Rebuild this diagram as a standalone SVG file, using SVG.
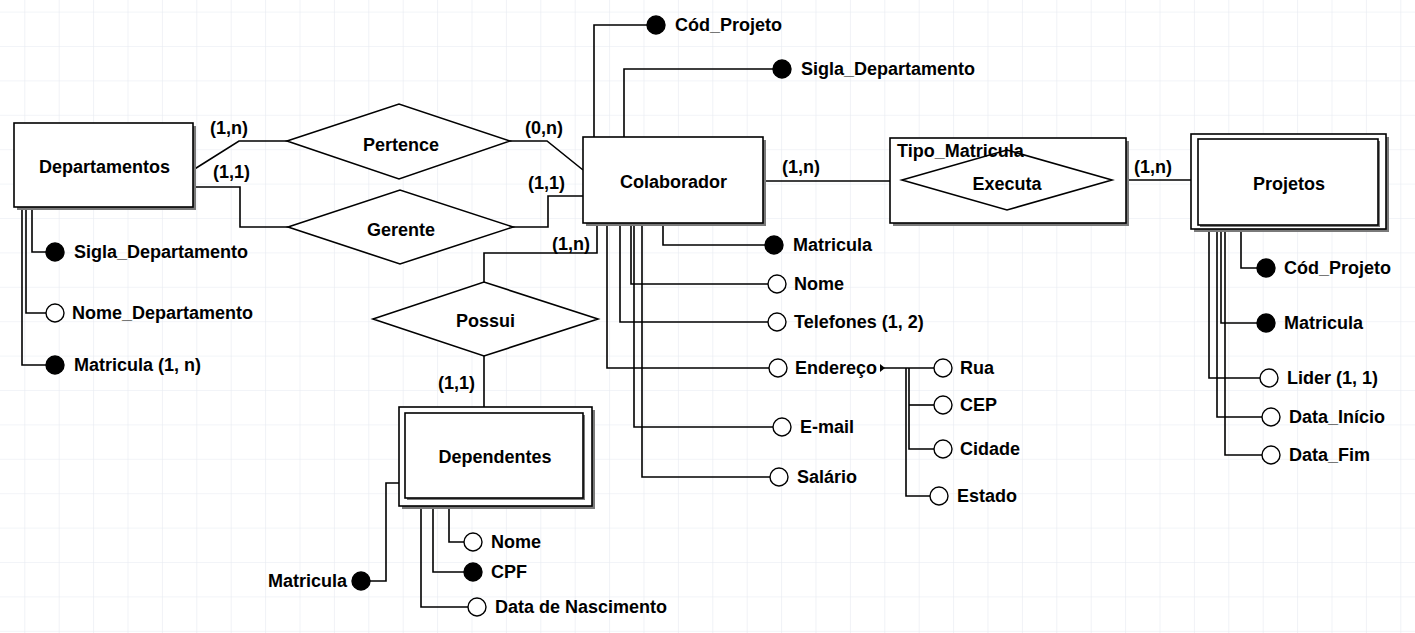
<svg xmlns="http://www.w3.org/2000/svg" width="1415" height="633" viewBox="0 0 1415 633">
<defs>
<pattern id="grid" patternUnits="userSpaceOnUse" x="24.3" y="11.6" width="34.4" height="34.4">
<path d="M0 0H34.4M0 0V34.4" fill="none" stroke="#e6eaf1" stroke-width="1.2"/>
</pattern>
<style>
text{font-family:"Liberation Sans",Arial,sans-serif;font-weight:bold;font-size:18px;fill:#000}
.c{text-anchor:middle}
.e{text-anchor:end}
.box{fill:#fff;stroke:#000;stroke-width:1.6}
.sh{fill:#7a7a7a}
.dia{fill:#fff;stroke:#000;stroke-width:1.6}
.ln{fill:none;stroke:#000;stroke-width:1.6}
.key{fill:#000;stroke:#000;stroke-width:1.4}
.att{fill:#fff;stroke:#000;stroke-width:1.4}
</style>
</defs>
<rect width="1415" height="633" fill="#fff"/>
<rect width="1415" height="633" fill="url(#grid)"/>

<g id="connectors">
<polyline class="ln" points="193,170 239,141 287,141"/>
<polyline class="ln" points="510,141 547,141 583,170"/>
<polyline class="ln" points="193,187 240,187 240,227 288,227"/>
<polyline class="ln" points="513,227 548,227 548,196 583,196"/>
<polyline class="ln" points="597,223 597,253 484,253 484,282"/>
<polyline class="ln" points="484,356 484,407"/>
<polyline class="ln" points="763,181 902,181"/>
<polyline class="ln" points="1112,180 1191,180"/>
<!-- Departamentos attributes -->
<polyline class="ln" points="32,208 32,252 46,252"/>
<polyline class="ln" points="26,208 26,313 46,313"/>
<polyline class="ln" points="22,208 22,365 46,365"/>
<!-- Colaborador attributes -->
<polyline class="ln" points="594,137 594,25 647,25"/>
<polyline class="ln" points="624,137 624,69 773,69"/>
<polyline class="ln" points="663,223 663,245 765,245"/>
<polyline class="ln" points="631,223 631,284 768,284"/>
<polyline class="ln" points="620,223 620,322 768,322"/>
<polyline class="ln" points="607,223 607,368 769,368"/>
<polyline class="ln" points="634,223 634,427 773,427"/>
<polyline class="ln" points="642,223 642,477 770,477"/>
<!-- Endereco sub-attributes -->
<polyline class="ln" points="884,368 934,368"/>
<polyline class="ln" points="909,368 909,449 934,449"/>
<polyline class="ln" points="909,405 934,405"/>
<polyline class="ln" points="906,368 906,496 930,496"/>
<polygon points="880,364 885,368 880,372" fill="#000"/>
<!-- Projetos attributes -->
<polyline class="ln" points="1241,229 1241,268 1257,268"/>
<polyline class="ln" points="1221,229 1221,323 1257,323"/>
<polyline class="ln" points="1209,229 1209,378 1260,378"/>
<polyline class="ln" points="1217,229 1217,417 1262,417"/>
<polyline class="ln" points="1225,229 1225,455 1262,455"/>
<!-- Dependentes attributes -->
<polyline class="ln" points="399,483 386,483 386,581 370,581"/>
<polyline class="ln" points="449,506 449,542 464,542"/>
<polyline class="ln" points="433,506 433,572 464,572"/>
<polyline class="ln" points="421,506 421,607 468,607"/>
<text x="210" y="134">(1,n)</text>
<text x="213" y="178">(1,1)</text>
<text x="525" y="134">(0,n)</text>
<text x="528" y="189">(1,1)</text>
<text x="552" y="250">(1,n)</text>
<text x="782" y="173">(1,n)</text>
<text x="1134" y="173">(1,n)</text>
<text x="438" y="389">(1,1)</text>
</g>

<g id="departamentos">
<rect class="sh" x="17" y="126" width="179" height="84"/>
<rect class="box" x="14" y="123" width="179" height="84"/>
<text class="c" x="104.5" y="173">Departamentos</text>
</g>
<g id="dep-sigla"><circle class="key" cx="55" cy="252" r="9"/><text x="74" y="258">Sigla_Departamento</text></g>
<g id="dep-nome"><circle class="att" cx="55" cy="313" r="9"/><text x="72" y="319">Nome_Departamento</text></g>
<g id="dep-matricula"><circle class="key" cx="55" cy="365" r="9"/><text x="74" y="371">Matricula (1, n)</text></g>

<g id="pertence">
<polygon class="dia" points="287,141 399,104 510,141 399,179"/>
<text class="c" x="401" y="151">Pertence</text>
</g>
<g id="gerente">
<polygon class="dia" points="288,227 400,190 513,227 400,264"/>
<text class="c" x="401" y="236">Gerente</text>
</g>

<g id="colaborador">
<rect class="sh" x="586" y="140" width="180" height="86"/>
<rect class="box" x="583" y="137" width="180" height="86"/>
<text class="c" x="673.5" y="188">Colaborador</text>
</g>
<g id="col-codprojeto"><circle class="key" cx="656" cy="25" r="9"/><text x="675" y="31">Cód_Projeto</text></g>
<g id="col-sigla"><circle class="key" cx="782" cy="69" r="9"/><text x="801" y="75">Sigla_Departamento</text></g>
<g id="col-matricula"><circle class="key" cx="774" cy="245" r="9"/><text x="793" y="251">Matricula</text></g>
<g id="col-nome"><circle class="att" cx="777" cy="284" r="9"/><text x="794" y="290">Nome</text></g>
<g id="col-telefones"><circle class="att" cx="777" cy="322" r="9"/><text x="794" y="328">Telefones (1, 2)</text></g>
<g id="col-endereco"><circle class="att" cx="778" cy="368" r="9"/><text x="795" y="374">Endereço</text></g>
<g id="col-email"><circle class="att" cx="782" cy="427" r="9"/><text x="800" y="433">E-mail</text></g>
<g id="col-salario"><circle class="att" cx="779" cy="477" r="9"/><text x="797" y="483">Salário</text></g>
<g id="end-rua"><circle class="att" cx="943" cy="368" r="9"/><text x="960" y="374">Rua</text></g>
<g id="end-cep"><circle class="att" cx="943" cy="405" r="9"/><text x="960" y="411">CEP</text></g>
<g id="end-cidade"><circle class="att" cx="943" cy="449" r="9"/><text x="960" y="455">Cidade</text></g>
<g id="end-estado"><circle class="att" cx="939" cy="496" r="9"/><text x="957" y="502">Estado</text></g>

<g id="tipo-matricula">
<rect class="sh" x="893" y="141" width="236" height="85"/>
<rect class="box" x="890" y="138" width="236" height="85"/>
</g>
<g id="executa">
<polygon class="dia" points="902,180 1007,150 1112,180 1007,210"/>
<text class="c" x="1007" y="190">Executa</text>
</g>
<text x="897" y="157">Tipo_Matricula</text>

<g id="projetos">
<rect class="sh" x="1194" y="137" width="195" height="95"/>
<rect class="box" x="1191" y="134" width="195" height="95"/>
<rect class="sh" x="1200" y="141" width="180" height="86"/>
<rect class="box" x="1198" y="139" width="180" height="86"/>
<text class="c" x="1289" y="190">Projetos</text>
</g>
<g id="proj-codprojeto"><circle class="key" cx="1266" cy="268" r="9"/><text x="1284" y="274">Cód_Projeto</text></g>
<g id="proj-matricula"><circle class="key" cx="1266" cy="323" r="9"/><text x="1284" y="329">Matricula</text></g>
<g id="proj-lider"><circle class="att" cx="1269" cy="378" r="9"/><text x="1287" y="384">Lider (1, 1)</text></g>
<g id="proj-inicio"><circle class="att" cx="1271" cy="417" r="9"/><text x="1289" y="423">Data_Início</text></g>
<g id="proj-fim"><circle class="att" cx="1271" cy="455" r="9"/><text x="1289" y="461">Data_Fim</text></g>

<g id="possui">
<polygon class="dia" points="373,319 484,282 598,319 484,356"/>
<text class="c" x="485.5" y="327">Possui</text>
</g>

<g id="dependentes">
<rect class="sh" x="402" y="410" width="193" height="99"/>
<rect class="box" x="399" y="407" width="193" height="99"/>
<rect class="sh" x="407" y="415" width="178" height="85"/>
<rect class="box" x="405" y="413" width="178" height="85"/>
<text class="c" x="495" y="463">Dependentes</text>
</g>
<g id="dep2-matricula"><circle class="key" cx="361" cy="581" r="9"/><text class="e" x="347" y="587">Matricula</text></g>
<g id="dep2-nome"><circle class="att" cx="473" cy="542" r="9"/><text x="491" y="548">Nome</text></g>
<g id="dep2-cpf"><circle class="key" cx="473" cy="572" r="9"/><text x="491" y="578">CPF</text></g>
<g id="dep2-nasc"><circle class="att" cx="477" cy="607" r="9"/><text x="495" y="613">Data de Nascimento</text></g>
</svg>
